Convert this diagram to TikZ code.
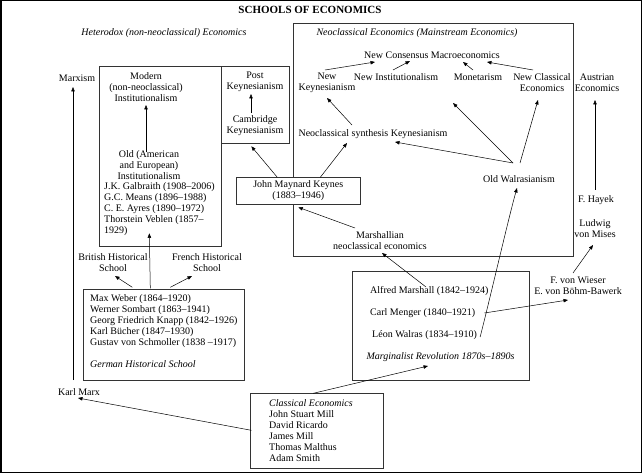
\documentclass[tikz,border=0pt]{standalone}
\usepackage{fontspec}
\setmainfont{Liberation Serif}
\usetikzlibrary{calc,arrows.meta}
\newcommand\dfs{\fontsize{10}{11}\selectfont}
\begin{document}
\begin{tikzpicture}[x=1pt,y=-1pt,
  lbl/.style={inner sep=0pt, align=center, font=\dfs},
  lft/.style={inner sep=0pt, align=left, font=\dfs, anchor=west},
  boxn/.style={draw=black!80, line width=0.6pt, inner sep=0pt, anchor=north west},
  arr/.style={-{Triangle[length=4.5pt,width=3.5pt]}, line width=0.5pt}]
\useasboundingbox (0,0) rectangle (642,473);
\draw[line width=1.5pt] (0.75,0.75) rectangle (641.25,472.25);
% titles
\node[lbl, font=\fontsize{11}{13}\selectfont\bfseries] (title) at (310,10) {SCHOOLS OF ECONOMICS};
\node[lbl, font=\dfs\itshape] (het) at (164,33) {Heterodox (non-neoclassical) Economics};
% neoclassical
\node[boxn, minimum width=280pt, minimum height=233pt] (neobox) at (293,23) {};
\node[lbl, font=\dfs\itshape] (neolab) at (417,33) {Neoclassical Economics (Mainstream Economics)};
\node[lbl] (ncm) at (432,55) {New Consensus Macroeconomics};
\node[lbl] (nk) at (327,83) {New\\Keynesianism};
\node[lbl] (ni) at (396,77) {New Institutionalism};
\node[lbl] (mon) at (478,77) {Monetarism};
\node[lbl] (nce) at (542,83) {New Classical\\Economics};
\node[lbl] (aus) at (597,83) {Austrian\\Economics};
\node[lbl] (nsk) at (373,134) {Neoclassical synthesis Keynesianism};
\node[lbl] (ow) at (519,179) {Old Walrasianism};
\coordinate (owfree) at (453,103);
\node[boxn, fill=white, minimum width=124pt, minimum height=27pt] (kbox) at (236,177) {};
\node[lbl] (keynes) at (kbox.center) {John Maynard Keynes\\(1883–1946)};
\node[lbl] (marsh) at (380,240.5) {Marshallian\\neoclassical economics};
% post keynesian
\node[boxn, minimum width=68pt, minimum height=77pt] (postbox) at (221,66) {};
\node[lbl] (post) at (255,81.5) {Post\\Keynesianism};
\node[lbl] (camb) at (255,125.5) {Cambridge\\Keynesianism};
% institutionalism
\node[boxn, minimum width=122pt, minimum height=180pt] (instbox) at (99,66) {};
\node[lbl] (modern) at (146,87) {Modern\\(non-neoclassical)\\Institutionalism};
\node[lbl] (oldinst) at (149,165.5) {Old (American\\and European)\\Institutionalism};
\node[lft] (instlist) at (104,209.5) {J.K. Galbraith (1908–2006)\\G.C. Means (1896–1988)\\C. E. Ayres (1890–1972)\\Thorstein Veblen (1857–\\1929)};
\node[lbl] (marxism) at (77,78) {Marxism};
\node[lbl] (brit) at (113,262.5) {British Historical\\School};
\node[lbl] (french) at (207,262.5) {French Historical\\School};
% german
\node[boxn, minimum width=161pt, minimum height=91pt] (gbox) at (83,289) {};
\node[lft] (glist) at (90,331) {Max Weber (1864–1920)\\Werner Sombart (1863–1941)\\Georg Friedrich Knapp (1842–1926)\\Karl Bücher (1847–1930)\\Gustav von Schmoller (1838 –1917)\\[11pt]\textit{German Historical School}};
\node[lbl] (kmarx) at (79,392) {Karl Marx};
% classical
\node[boxn, minimum width=133pt, minimum height=75pt] (cbox) at (250,393) {};
\node[lft] (clist) at (269,431) {\textit{Classical Economics}\\John Stuart Mill\\David Ricardo\\James Mill\\Thomas Malthus\\Adam Smith};
% marginalist
\node[boxn, minimum width=177pt, minimum height=109pt] (mbox) at (352,271) {};
\node[lft] (marshall) at (370,291) {Alfred Marshall (1842–1924)};
\node[lft] (menger) at (370,313) {Carl Menger (1840–1921)};
\node[lft] (walras) at (372,335) {Léon Walras (1834–1910)};
\node[lbl, font=\dfs\itshape] (marglab) at (440.5,357) {Marginalist Revolution 1870s–1890s};
% austrian
\node[lbl] (wieser) at (578,285.5) {F. von Wieser\\E. von Böhm-Bawerk};
\node[lbl] (mises) at (595,228.5) {Ludwig\\von Mises};
\node[lbl] (hayek) at (596,200) {F. Hayek};
% arrows
\draw[arr] ($(nk)+(-2,-13)$) -- ($(ncm)+(-57,7)$);
\draw[arr] ($(ni)+(-3,-7)$) -- ($(ncm)+(-22,6)$);
\draw[arr] ($(mon)+(-5,-7)$) -- ($(ncm)+(31,7)$);
\draw[arr] ($(nce)+(-9,-13)$) -- ($(ncm)+(55,7)$);
\draw[arr] ($(nsk)+(-21,-9)$) -- ($(nk)+(0,15)$);
\draw[arr] ($(ow)+(-6,-16)$) -- ($(nsk)+(22,8)$);
\draw[arr] ($(ow)+(-6,-16)$) -- (owfree);
\draw[arr] ($(ow)+(1,-16)$) -- ($(nce)+(-4,17)$);
\draw[arr] ($(kbox)+(-21,-13.5)$) -- ($(postbox)+(-4,41.5)$);
\draw[arr] ($(kbox)+(22,-13.5)$) -- ($(nsk)+(-26,9)$);
\draw[arr] ($(marsh)+(-25,-12.5)$) -- ($(kbox)+(0,16.5)$);
\draw[arr] ($(camb)+(-4,-12.5)$) -- ($(post)+(-4,12.5)$);
\draw[arr] ($(oldinst)+(-3,-13)$) -- ($(modern)+(0,18)$);
\draw[arr] ($(gbox)+(-13.5,-46.5)$) -- ($(instbox)+(-11,77)$);
\draw[arr] ($(kmarx)+(-6,-12)$) -- ($(marxism)+(-4,9)$);
\draw[arr] ($(gbox)+(-31.5,-47.5)$) -- ($(brit)+(2,13.5)$);
\draw[arr] ($(gbox)+(6.5,-47.5)$) -- ($(french)+(-15,13.5)$);
\draw[arr] ($(cbox)+(-65.5,-0.5)$) -- ($(kmarx)+(-1,6)$);
\draw[arr] ($(cbox)+(-3.5,-37.5)$) -- ($(marglab)+(-12.5,9)$);
\draw[arr] ($(marshall.west)+(56,-4)$) -- ($(marsh)+(2,12.5)$);
\draw[arr] ($(walras.east)+(3,2)$) .. controls ($(walras.east)+(15,-45)$) and ($(ow)+(-11,41)$) .. ($(ow)+(-2,9)$);
\draw[arr] ($(menger.east)+(9,0)$) -- ($(wieser)+(-10,14.5)$);
\draw[arr] ($(wieser)+(-5,-12.5)$) -- ($(mises)+(-2,16.5)$);
\draw[arr] ($(hayek)+(-1,-10)$) -- ($(aus)+(-2,17)$);
\end{tikzpicture}
\end{document}
